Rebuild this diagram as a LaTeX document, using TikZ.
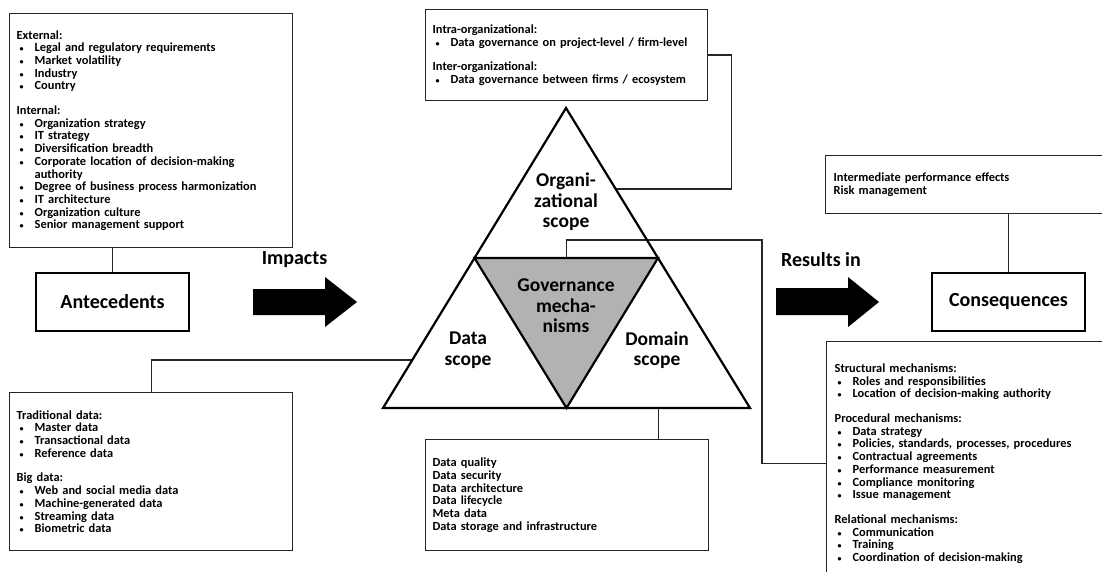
\documentclass[tikz,border=0pt]{standalone}
\usepackage{fontspec}
\setmainfont{Carlito}
\usetikzlibrary{calc}
\newcommand{\bitem}[1]{\makebox[18pt][l]{\hspace{3pt}{\footnotesize\textbullet}}#1}

\begin{document}
\begin{tikzpicture}[x=1pt,y=-1pt,
 list/.style={draw=black!85,line width=1.3pt,anchor=north west,align=left,inner xsep=7pt,inner ysep=0pt,
   font=\bfseries\fontsize{12.4}{12.7}\selectfont},
 keybox/.style={draw,line width=2.2pt,minimum width=153pt,minimum height=58pt,font=\bfseries\fontsize{20}{24}\selectfont},
 scopetext/.style={align=center,font=\bfseries\fontsize{19.5}{20.5}\selectfont},
 conn/.style={draw=black!85,line width=1.3pt}]
 \useasboundingbox (0,0) rectangle (1102,572);
 \clip (0,0) rectangle (1102,572);

 % boxes on the left
 \node[list,text width=269pt,minimum height=234pt] (ext_box) at (9,13) {External:\\
  \bitem{Legal and regulatory requirements}\\
  \bitem{Market volatility}\\
  \bitem{Industry}\\
  \bitem{Country}\\[12pt]
  Internal:\\
  \bitem{Organization strategy}\\
  \bitem{IT strategy}\\
  \bitem{Diversification breadth}\\
  \bitem{Corporate location of decision-making}\\
  \hspace*{18pt}authority\\
  \bitem{Degree of business process harmonization}\\
  \bitem{IT architecture}\\
  \bitem{Organization culture}\\
  \bitem{Senior management support}};
 \node[keybox] (ante) at (112.5,302) {Antecedents};
 \node[list,text width=269pt,minimum height=158pt] (data_box) at (9,392) {Traditional data:\\
  \bitem{Master data}\\
  \bitem{Transactional data}\\
  \bitem{Reference data}\\[12pt]
  Big data:\\
  \bitem{Web and social media data}\\
  \bitem{Machine-generated data}\\
  \bitem{Streaming data}\\
  \bitem{Biometric data}};

 % boxes in the middle
 \node[list,text width=268pt,minimum height=91pt] (org_box) at (425,9) {Intra-organizational:\\
  \bitem{Data governance on project-level / firm-level}\\[12pt]
  Inter-organizational:\\
  \bitem{Data governance between firms / ecosystem}};
 \node[list,text width=269pt,minimum height=111pt] (dom_box) at (425,439) {Data quality\\
  Data security\\
  Data architecture\\
  Data lifecycle\\
  Meta data\\
  Data storage and infrastructure};

 % boxes on the right
 \node[list,text width=276pt,minimum height=58pt,inner xsep=8pt] (eff_box) at (825,155) {Intermediate performance effects\\
  Risk management};
 \node[keybox] (conseq) at (1008.5,302) {Consequences};
 \node[list,text width=274pt,minimum height=244pt,inner xsep=8pt] (mech_box) at (826,341) {Structural mechanisms:\\
  \bitem{Roles and responsibilities}\\
  \bitem{Location of decision-making authority}\\[12pt]
  Procedural mechanisms:\\
  \bitem{Data strategy}\\
  \bitem{Policies, standards, processes, procedures}\\
  \bitem{Contractual agreements}\\
  \bitem{Performance measurement}\\
  \bitem{Compliance monitoring}\\
  \bitem{Issue management}\\[12pt]
  Relational mechanisms:\\
  \bitem{Communication}\\
  \bitem{Training}\\
  \bitem{Coordination of decision-making}};

 % big arrows
 \fill (253,289) -- (325,289) -- (325,277) -- (357,302) -- (325,327) -- (325,315) -- (253,315) -- cycle;
 \node[font=\bfseries\fontsize{20}{24}\selectfont] (imp_text) at (294.5,260) {Impacts};
 \fill (776,288) -- (848,288) -- (848,277) -- (879,302) -- (848,327) -- (848,315) -- (776,315) -- cycle;
 \node[font=\bfseries\fontsize{20}{24}\selectfont] (res_text) at (821,260) {Results in};

 % triangle
 \coordinate (top) at (566,108);
 \coordinate (bl) at (383,408);
 \coordinate (br) at (750,408);
 \coordinate (ml) at ($(top)!.5!(bl)$);
 \coordinate (mr) at ($(top)!.5!(br)$);
 \coordinate (mb) at ($(bl)!.5!(br)$);
 \coordinate (gm_top) at ($(ml)!.5!(mr)$);
 \coordinate (dom_foot) at ($(mb)!.5!(br)$);

 % connectors
 \draw[conn] (ext_box.south -| ante.north) -- (ante.north);
 \draw[conn] (eff_box.south -| conseq.north) -- (conseq.north);
 \draw[conn] (org_box.east) -- ++(23,0) |- ($(top)!.27!(br)$);
 \draw[conn] ($(top)!.84!(bl)$) -| (data_box.north);
 \draw[conn] (dom_foot) -- (dom_foot |- dom_box.north);
 \draw[conn] (gm_top) -- ++(0,-18) -| ([xshift=-64pt]mech_box.west) -- (mech_box.west);

 \fill[gray!60] (ml) -- (mr) -- (mb) -- cycle;
 \draw[line width=2.2pt] (top) -- (bl) -- (br) -- cycle;
 \draw[line width=2.2pt] (ml) -- (mr) -- (mb) -- cycle;

 \node[scopetext] (org_lbl) at (566,202) {Organi-\\zational\\scope};
 \node[scopetext] (gov_lbl) at (566,306) {Governance\\mecha-\\nisms};
 \node[scopetext] (data_lbl) at (468,350) {Data\\scope};
 \node[scopetext] (dom_lbl) at (657,350) {Domain\\scope};
\end{tikzpicture}
\end{document}
